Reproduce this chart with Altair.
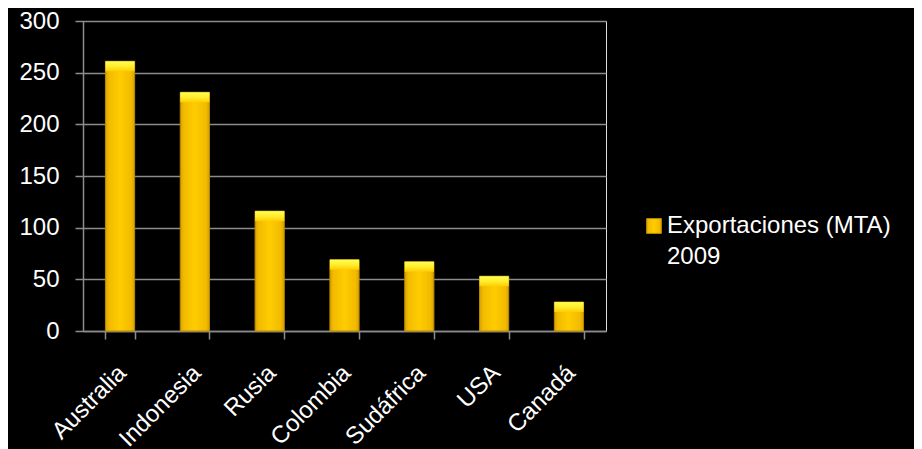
import altair as alt
import pandas as pd

countries = ["Australia", "Indonesia", "Rusia", "Colombia", "Sudáfrica", "USA", "Canadá"]
values = [261, 231, 116, 69, 67, 53, 28]
series = "Exportaciones (MTA) 2009"

df = pd.DataFrame({"pais": countries, "valor": values, "serie": [series] * len(countries)})

body_grad = alt.Gradient(
    gradient="linear", x1=0, y1=0, x2=1, y2=0,
    stops=[
        alt.GradientStop(offset=0, color="#D9A200"),
        alt.GradientStop(offset=0.12, color="#F2BB00"),
        alt.GradientStop(offset=0.5, color="#FFCC00"),
        alt.GradientStop(offset=0.88, color="#F2BB00"),
        alt.GradientStop(offset=1, color="#D9A200"),
    ],
)
cap_grad = alt.Gradient(
    gradient="linear", x1=0, y1=0, x2=0, y2=1,
    stops=[
        alt.GradientStop(offset=0, color="#FFFF50"),
        alt.GradientStop(offset=0.5, color="#FFEE30"),
        alt.GradientStop(offset=1, color="#FFCC00"),
    ],
)

FONT = "Liberation Sans"
FS = 24
GRID = "#8c8c8c"

x_enc = alt.X(
    "pais:N", sort=countries, title=None,
    scale=alt.Scale(paddingInner=0.61, paddingOuter=0.3),
    axis=alt.Axis(
        labelAngle=-45, labelColor="white", labelFontSize=FS, labelFont=FONT,
        domainColor=GRID, domainWidth=1.5, tickColor=GRID, tickWidth=1.5,
        tickSize=8, tickBand="extent", labelPadding=30, labelOffset=2,
        labelAlign="right", labelBaseline="middle",
    ),
)
y_enc = alt.Y(
    "valor:Q", title=None,
    scale=alt.Scale(domain=[0, 300], nice=False),
    axis=alt.Axis(
        values=[0, 50, 100, 150, 200, 250, 300], labelColor="white", labelFontSize=FS,
        labelFont=FONT, domainColor=GRID, domainWidth=1.5,
        tickColor=GRID, tickWidth=1.5, tickSize=8, labelPadding=16,
        gridColor=GRID, gridWidth=1.5,
    ),
)

bars = alt.Chart(df).mark_bar(fill=body_grad, strokeWidth=1).encode(
    x=x_enc, y=y_enc,
    stroke=alt.Stroke(
        "serie:N", title=None,
        scale=alt.Scale(range=["#B88A00"]),
        legend=alt.Legend(
            orient="none", legendX=559, legendY=193,
            symbolType="square", symbolSize=220, symbolStrokeWidth=1,
            symbolFillColor="#F2C000",
            labelColor="white", labelFontSize=FS, labelFont=FONT,
            labelExpr="['Exportaciones (MTA)', '2009']", labelLimit=400,
            labelBaseline="middle", labelOffset=1,
        ),
    ),
)

cap = alt.Chart(df).mark_bar(fill=cap_grad, y2Offset=10, stroke=None).encode(
    x=alt.X("pais:N", sort=countries),
    y="valor:Q",
    y2="valor:Q",
)

chart = (
    alt.layer(bars, cap)
    .properties(
        width=523, height=310, background="black",
        autosize=alt.AutoSizeParams(type="none"),
        padding={"left": 75, "top": 13, "right": 308, "bottom": 118},
    )
    .configure_view(fill="#404040", stroke=None)
    .configure(style={"guide-label": {"lineHeight": 31}})
)

chart.save("out.html", embed_options={"renderer": "svg", "actions": False})
